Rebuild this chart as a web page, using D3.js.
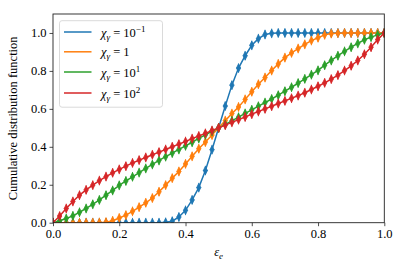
<!DOCTYPE html>
<html>
<head>
<meta charset="utf-8">
<script src="https://cdn.jsdelivr.net/npm/d3@7"></script>
<style>
body{margin:0;background:#fff}
text{font-family:"Liberation Serif","DejaVu Serif",serif;fill:#000}
</style>
</head>
<body>
<svg id="chart" width="407" height="271"></svg>
<script>
// epsilon_e sample positions 0, 0.02, ... 1.0
var eps = d3.range(51).map(function(i){ return +(i*0.02).toFixed(2) })

var blue = [0,0,0,0,0,0,0,0,0,0,0,0,0,0,0,0,0,
	0.002,0.008,0.03,0.065,0.12,0.185,0.275,0.385,0.5,0.615,0.725,0.815,0.88,0.935,0.97,0.992,0.998,
	1,1,1,1,1,1,1,1,1,1,1,1,1,1,1,1,1]
var orange = [0,0,0,0,0,0,0,
	0.001,0.003,0.01,0.025,0.04,0.06,0.082,0.105,0.13,0.163,0.198,0.235,0.27,0.31,0.35,0.39,0.425,0.462,
	0.5,0.538,0.575,0.61,0.65,0.69,0.73,0.765,0.802,0.837,0.87,0.895,0.918,0.94,0.96,0.975,0.99,0.997,0.999,
	1,1,1,1,1,1,1]
var green = [0,0.01,0.022,0.036,0.055,0.075,0.097,0.12,0.145,0.17,0.197,0.22,0.242,0.264,0.286,0.307,0.328,
	0.348,0.367,0.386,0.405,0.424,0.444,0.463,0.482,0.5,0.518,0.537,0.556,0.576,0.595,0.614,0.633,0.652,
	0.672,0.693,0.714,0.736,0.758,0.78,0.803,0.83,0.855,0.88,0.903,0.925,0.945,0.964,0.978,0.99,1]
var red = [0,0.035,0.075,0.112,0.145,0.173,0.198,0.222,0.243,0.263,0.281,0.298,0.315,0.33,0.344,0.358,0.372,
	0.386,0.4,0.414,0.428,0.443,0.457,0.471,0.486,0.5,0.514,0.529,0.543,0.557,0.572,0.586,0.6,0.614,
	0.628,0.642,0.656,0.67,0.685,0.702,0.719,0.737,0.757,0.778,0.802,0.827,0.855,0.888,0.925,0.965,1]

var seriesNames = ["b","o","g","r"]
var seriesExp = ["\u22121","","1","2"]
var colors = ["#1f77b4","#ff7f0e","#2ca02c","#d62728"]
var xTicks = [0,0.2,0.4,0.6,0.8,1.0]
var yTicks = [0,0.2,0.4,0.6,0.8,1.0]

var series = [blue,orange,green,red]

var W = 407, H = 271
var L = 53, R = 384.3, T = 14, B = 222.7

var svg = d3.select("#chart")
var x = d3.scaleLinear().domain([0,1]).range([L,R])
var y = d3.scaleLinear().domain([0,1.1]).range([B,T])

svg.append("defs").append("clipPath").attr("id","clip")
	.append("rect").attr("x",L).attr("y",T).attr("width",R-L).attr("height",B-T)

var plot = svg.append("g").attr("clip-path","url(#clip)")

var line = d3.line()
	.x(function(d,i){ return x(eps[i]) })
	.y(function(d){ return y(d) })

series.forEach(function(s,k){
	var g = plot.append("g")
	g.append("path")
		.datum(s)
		.attr("d",line)
		.attr("fill","none")
		.attr("stroke",colors[k])
		.attr("stroke-width",1.5)
	// errorbar-ish marks: thin diamond + vertical bar
	g.selectAll("path.m")
		.data(s)
		.enter().append("path")
		.attr("class","m")
		.attr("transform",function(d,i){ return "translate(" + x(eps[i]) + "," + y(d) + ")" })
		.attr("d","M0,-4.2L2.1,0L0,4.2L-2.1,0Z M0,-4.8V4.8 M-2.4,0H2.4")
		.attr("fill",colors[k])
		.attr("stroke",colors[k])
		.attr("stroke-width",0.8)
})

// frame
svg.append("rect")
	.attr("x",L).attr("y",T).attr("width",R-L).attr("height",B-T)
	.attr("fill","none").attr("stroke","#222").attr("stroke-width",0.9)

// x axis
var xa = svg.append("g").attr("transform","translate(0," + B + ")")
	.call(d3.axisBottom(x).tickValues(xTicks).tickSize(3.5).tickPadding(3).tickFormat(d3.format(".1f")))
var ya = svg.append("g").attr("transform","translate(" + L + ",0)")
	.call(d3.axisLeft(y).tickValues(yTicks).tickSize(3.5).tickPadding(3).tickFormat(d3.format(".1f")))
;[xa,ya].forEach(function(a){
	a.select(".domain").remove()
	a.selectAll("line").attr("stroke","#222").attr("stroke-width",0.8)
	a.selectAll("text").attr("font-size",12.5).attr("font-family","Liberation Serif")
})

// axis labels
var xl = svg.append("text")
	.attr("x",(L+R)/2).attr("y",256)
	.attr("text-anchor","middle").attr("font-size",12.5)
xl.append("tspan").attr("font-style","italic").text("\u03b5")
xl.append("tspan").attr("font-style","italic").attr("font-size",9).attr("dy",3).text("e")

svg.append("text")
	.attr("transform","translate(17," + ((T+B)/2) + ") rotate(-90)")
	.attr("text-anchor","middle").attr("font-size",12.5)
	.text("Cumulative distribution function")

// legend
var lg = svg.append("g")
lg.append("rect")
	.attr("x",59.5).attr("y",20.7).attr("width",103).attr("height",86.5)
	.attr("rx",2.5).attr("fill","#fff").attr("fill-opacity",0.8)
	.attr("stroke","#d6d6d6").attr("stroke-width",0.9)
var rows = [32,51.8,72,93]
seriesNames.forEach(function(n,k){
	lg.append("line")
		.attr("x1",64).attr("x2",91.5).attr("y1",rows[k]).attr("y2",rows[k])
		.attr("stroke",colors[k]).attr("stroke-width",1.5)
	var t = lg.append("text").attr("x",101).attr("y",rows[k]+4.5).attr("font-size",12.5)
	t.append("tspan").attr("font-style","italic").text("\u03c7")
	t.append("tspan").attr("font-style","italic").attr("font-size",9).attr("dy",3).text("\u03b3")
	if(k == 1){
		t.append("tspan").attr("dy",-3).text(" = 1")
	} else {
		t.append("tspan").attr("dy",-3).text(" = 10")
		t.append("tspan").attr("font-size",9).attr("dy",-5).text(seriesExp[k])
	}
})
</script>
</body>
</html>
